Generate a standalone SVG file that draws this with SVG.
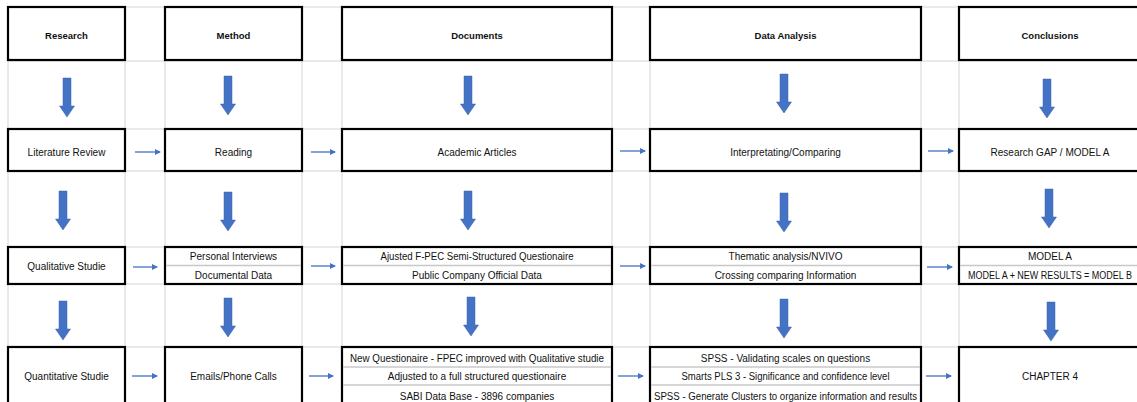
<svg xmlns="http://www.w3.org/2000/svg" width="1137" height="402" viewBox="0 0 1137 402">
  <style>
    .grid { stroke: #d4d4d4; stroke-width: 1; }
    .box { fill: #ffffff; stroke: #000000; stroke-width: 2.2; }
    .sep { stroke: #c8c8c8; stroke-width: 1.5; }
    .hd { font-family: "Liberation Sans", Arial, sans-serif; font-size: 9.5px; font-weight: bold; fill: #111; text-anchor: middle; }
    .tx { font-family: "Liberation Sans", Arial, sans-serif; font-size: 10px; fill: #111; text-anchor: middle; }
    .down { fill: #4472C4; stroke: #3a64ad; stroke-width: 0.5; }
    .link { stroke: #4472C4; stroke-width: 1.3; fill: none; marker-end: url(#tip); }
  </style>
  <defs>
    <marker id="tip" viewBox="0 0 6 6" refX="5" refY="3" markerWidth="6" markerHeight="6" markerUnits="userSpaceOnUse" orient="auto">
      <path d="M0,0 L6,3 L0,6 Z" fill="#4472C4"/>
    </marker>
    <path id="downArrow" d="M-4,0 H4 V28 H7.5 L0,39 L-7.5,28 H-4 Z"/>
  </defs>

  <rect width="1137" height="402" fill="#ffffff"/>

  <!-- sheet gridlines -->
  <g id="gridlines" class="grid">
    <line x1="8" y1="7" x2="8" y2="402"/>
    <line x1="125" y1="7" x2="125" y2="402"/>
    <line x1="165" y1="7" x2="165" y2="402"/>
    <line x1="302" y1="7" x2="302" y2="402"/>
    <line x1="342" y1="7" x2="342" y2="402"/>
    <line x1="612" y1="7" x2="612" y2="402"/>
    <line x1="650" y1="7" x2="650" y2="402"/>
    <line x1="921" y1="7" x2="921" y2="402"/>
    <line x1="959" y1="7" x2="959" y2="402"/>
    <line x1="8" y1="7" x2="1137" y2="7"/>
    <line x1="8" y1="61" x2="1137" y2="61"/>
    <line x1="8" y1="129" x2="1137" y2="129"/>
    <line x1="8" y1="171" x2="1137" y2="171"/>
    <line x1="8" y1="247" x2="1137" y2="247"/>
    <line x1="8" y1="284" x2="1137" y2="284"/>
    <line x1="8" y1="347" x2="1137" y2="347"/>
  </g>

  <!-- header row -->
  <g id="research"><rect class="box" x="8" y="7" width="117" height="53"/><text class="hd" x="66.5" y="38.5">Research</text></g>
  <g id="method"><rect class="box" x="165" y="7" width="137" height="53"/><text class="hd" x="233.5" y="38.5">Method</text></g>
  <g id="documents"><rect class="box" x="342" y="7" width="270" height="53"/><text class="hd" x="477" y="38.5">Documents</text></g>
  <g id="data-analysis"><rect class="box" x="650" y="7" width="271" height="53"/><text class="hd" x="785.5" y="38.5">Data Analysis</text></g>
  <g id="conclusions"><rect class="box" x="959" y="7" width="190" height="53"/><text class="hd" x="1050" y="38.5">Conclusions</text></g>

  <!-- literature row -->
  <g id="literature-review"><rect class="box" x="8" y="129" width="117" height="42"/><text class="tx" x="66.5" y="155.5">Literature Review</text></g>
  <g id="reading"><rect class="box" x="165" y="129" width="137" height="42"/><text class="tx" x="233.5" y="155.5">Reading</text></g>
  <g id="academic-articles"><rect class="box" x="342" y="129" width="270" height="42"/><text class="tx" x="477" y="155.5">Academic Articles</text></g>
  <g id="interpretating"><rect class="box" x="650" y="129" width="271" height="42"/><text class="tx" x="785.5" y="155.5">Interpretating/Comparing</text></g>
  <g id="research-gap"><rect class="box" x="959" y="129" width="190" height="42"/><text class="tx" x="1050" y="155.5">Research GAP / MODEL A</text></g>

  <!-- qualitative row -->
  <g id="qualitative-studie"><rect class="box" x="8" y="247" width="117" height="37"/><text class="tx" x="66.5" y="269.5">Qualitative Studie</text></g>
  <g id="interviews"><rect class="box" x="165" y="247" width="137" height="37"/><line class="sep" x1="166" y1="265.5" x2="301" y2="265.5"/>
    <text class="tx" x="233.5" y="260">Personal Interviews</text><text class="tx" x="233.5" y="279">Documental Data</text></g>
  <g id="questionnaire"><rect class="box" x="342" y="247" width="270" height="37"/><line class="sep" x1="343" y1="265.5" x2="611" y2="265.5"/>
    <text class="tx" x="477" y="260" textLength="193" lengthAdjust="spacingAndGlyphs">Ajusted F-PEC Semi-Structured Questionaire</text><text class="tx" x="477" y="279">Public Company Official Data</text></g>
  <g id="thematic-analysis"><rect class="box" x="650" y="247" width="271" height="37"/><line class="sep" x1="651" y1="265.5" x2="920" y2="265.5"/>
    <text class="tx" x="785.5" y="260">Thematic analysis/NVIVO</text><text class="tx" x="785.5" y="279">Crossing comparing Information</text></g>
  <g id="model-b"><rect class="box" x="959" y="247" width="190" height="37"/><line class="sep" x1="960" y1="265.5" x2="1137" y2="265.5"/>
    <text class="tx" x="1050" y="260">MODEL A</text><text class="tx" x="1050" y="279" textLength="164" lengthAdjust="spacingAndGlyphs">MODEL A + NEW RESULTS = MODEL B</text></g>

  <!-- quantitative row -->
  <g id="quantitative-studie"><rect class="box" x="8" y="347" width="117" height="70"/><text class="tx" x="66.5" y="380">Quantitative Studie</text></g>
  <g id="emails"><rect class="box" x="165" y="347" width="137" height="70"/><text class="tx" x="233.5" y="380">Emails/Phone Calls</text></g>
  <g id="new-questionnaire"><rect class="box" x="342" y="347" width="270" height="70"/>
    <line class="sep" x1="343" y1="367" x2="611" y2="367"/><line class="sep" x1="343" y1="385" x2="611" y2="385"/>
    <text class="tx" x="477" y="362" textLength="254" lengthAdjust="spacingAndGlyphs">New Questionaire - FPEC improved with Qualitative studie</text>
    <text class="tx" x="477" y="380">Adjusted to a full structured questionaire</text>
    <text class="tx" x="477" y="399.5">SABI Data Base - 3896 companies</text></g>
  <g id="spss"><rect class="box" x="650" y="347" width="271" height="70"/>
    <line class="sep" x1="651" y1="367" x2="920" y2="367"/><line class="sep" x1="651" y1="385" x2="920" y2="385"/>
    <text class="tx" x="785.5" y="362">SPSS - Validating scales on questions</text>
    <text class="tx" x="785.5" y="380" textLength="208" lengthAdjust="spacingAndGlyphs">Smarts PLS 3 - Significance and confidence level</text>
    <text class="tx" x="785.5" y="399.5" textLength="263" lengthAdjust="spacingAndGlyphs">SPSS - Generate Clusters to organize information and results</text></g>
  <g id="chapter-4"><rect class="box" x="959" y="347" width="190" height="70"/><text class="tx" x="1050" y="380">CHAPTER 4</text></g>

  <!-- connectors -->
  <g id="connectors">
    <g class="down">
      <use href="#downArrow" x="67" y="78"/>
      <use href="#downArrow" x="228" y="76"/>
      <use href="#downArrow" x="468" y="76"/>
      <use href="#downArrow" x="784" y="74"/>
      <use href="#downArrow" x="1047" y="79"/>
      <use href="#downArrow" x="63" y="191"/>
      <use href="#downArrow" x="228" y="192"/>
      <use href="#downArrow" x="468" y="191"/>
      <use href="#downArrow" x="784" y="193"/>
      <use href="#downArrow" x="1049" y="189"/>
      <use href="#downArrow" x="63" y="301"/>
      <use href="#downArrow" x="228" y="298"/>
      <use href="#downArrow" x="471" y="297"/>
      <use href="#downArrow" x="784" y="299"/>
      <use href="#downArrow" x="1051" y="302"/>
    </g>
    <line class="link" x1="135" y1="152" x2="160" y2="152"/>
    <line class="link" x1="311" y1="152" x2="335" y2="152"/>
    <line class="link" x1="620" y1="151" x2="645" y2="151"/>
    <line class="link" x1="928" y1="151" x2="953" y2="151"/>
    <line class="link" x1="133" y1="267" x2="157" y2="267"/>
    <line class="link" x1="311" y1="266" x2="335" y2="266"/>
    <line class="link" x1="620" y1="266" x2="645" y2="266"/>
    <line class="link" x1="927" y1="267" x2="952" y2="267"/>
    <line class="link" x1="132" y1="376" x2="157" y2="376"/>
    <line class="link" x1="309" y1="376" x2="333" y2="376"/>
    <line class="link" x1="618" y1="376" x2="643" y2="376"/>
    <line class="link" x1="926" y1="376" x2="951" y2="376"/>
  </g>
</svg>
